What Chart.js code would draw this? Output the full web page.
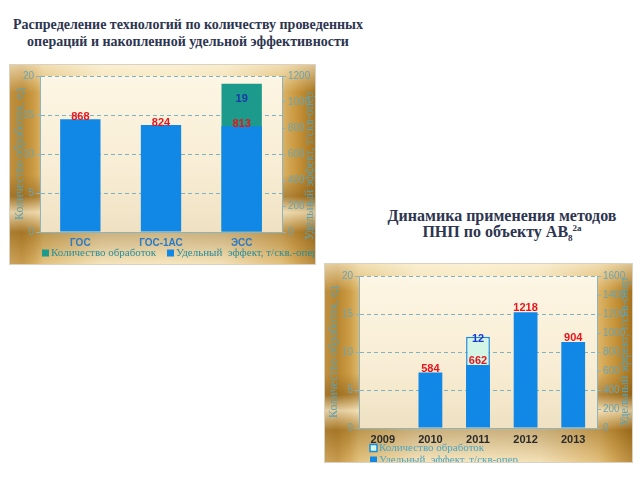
<!DOCTYPE html>
<html lang="ru">
<head>
<meta charset="utf-8">
<script src="https://cdn.jsdelivr.net/npm/chart.js@4.4.1/dist/chart.umd.min.js"></script>
<style>
  html, body { margin: 0; padding: 0; background: #fff; width: 640px; height: 480px; overflow: hidden; }
  .titulo {
    position: absolute;
    font-family: "Liberation Serif", "Times New Roman", serif;
    font-weight: bold;
    color: #2d3550;
    text-align: center;
  }
  #titulo1 { left: 0; top: 16px; width: 376px; font-size: 14px; line-height: 17px; }
  #titulo2 { left: 370px; top: 208px; width: 264px; font-size: 16px; line-height: 16px; }
  #titulo2 .sub { font-size: 9px; position: relative; top: 4px; }
  #titulo2 .sup { font-size: 9px; position: relative; top: -6px; }
  .painel {
    position: absolute;
    background:
      linear-gradient(180deg, rgba(255,248,225,0.6) 0%, rgba(255,248,225,0) 14%, rgba(255,248,225,0) 55%,
        rgba(120,78,15,0.4) 66%, rgba(255,250,232,0.6) 74%, rgba(130,88,20,0.35) 84%, rgba(255,240,205,0.2) 100%),
      linear-gradient(90deg, #c09040 0%, #b8862e 4%, #cc9c46 8%, #dcb86c 11%, #f2e0b6 30%, #f4e4bc 50%,
        #f0dcb0 70%, #dcb468 89%, #c8963c 94%, #a6721c 100%);
    box-shadow: 0 0 0 1px #d9d2c2;
  }
  #painel1 { left: 10px; top: 65px; width: 305px; height: 199px; }
  #painel2 { left: 325px; top: 264px; width: 307px; height: 198px; }
  canvas { display: block; }
</style>
</head>
<body>
<div class="titulo" id="titulo1">Распределение технологий по количеству проведенных<br>операций и накопленной удельной эффективности</div>
<div class="titulo" id="titulo2">Динамика применения методов<br>ПНП по объекту АВ<span class="sub">8</span><span class="sup">2а</span></div>
<div class="painel" id="painel1"><canvas id="grafico1" width="305" height="199"></canvas></div>
<div class="painel" id="painel2"><canvas id="grafico2" width="307" height="198"></canvas></div>
<script>
// dados do primeiro grafico
const categorias1 = ['ГОС', 'ГОС-1АС', 'ЭСС'];
const quantidade1 = [null, null, 19];
const efeito1 = [868, 824, 813];

// dados do segundo grafico
const anos2 = ['2009', '2010', '2011', '2012', '2013'];
const quantidade2 = [null, null, 12, null, null];
const efeito2 = [null, 584, 662, 1218, 904];

const rotuloQtd = 'Количество обработок';
const rotuloEfeito1 = 'Удельный  эффект, т/скв.-опер';
const rotuloEfeito2 = 'Удельный  эффект, т/скв-опер';
const tituloEsq = 'Количество обработок, ед';
const tituloDir = 'Удельный эффект, т/скв-опер';

const corTick = '#6aa5b5';
const corEixo = '#8db3bd';
const fonteSans = '"Liberation Sans", Arial, sans-serif';
const fonteSerif = '"Liberation Serif", "Times New Roman", serif';

// fundo creme da area do grafico
const fundoArea = {
    id: 'fundoArea',
    beforeDraw(chart) {
        const { ctx, chartArea: a } = chart;
        const g = ctx.createLinearGradient(0, a.top, 0, a.bottom);
        g.addColorStop(0, '#fdf6e4');
        g.addColorStop(0.6, '#f8edd4');
        g.addColorStop(1, '#efe1c2');
        ctx.save();
        ctx.fillStyle = g;
        ctx.fillRect(a.left, a.top, a.right - a.left, a.bottom - a.top);
        ctx.restore();
    }
};

// valores em cima das barras
const rotulos = {
    id: 'rotulos',
    afterDatasetsDraw(chart) {
        const ctx = chart.ctx;
        chart.data.datasets.forEach((ds, i) => {
            const cfg = ds.rotulo;
            if (!cfg) return;
            const meta = chart.getDatasetMeta(i);
            meta.data.forEach((barra, j) => {
                const v = ds.data[j];
                if (v === null || v === undefined) return;
                ctx.save();
                ctx.font = 'bold 11px ' + fonteSans;
                ctx.fillStyle = cfg.cor;
                ctx.textAlign = 'center';
                ctx.textBaseline = 'middle';
                ctx.fillText(String(v), barra.x, barra.y + cfg.desloc);
                ctx.restore();
            });
        });
    }
};

// titulos laterais girados e legenda
const extras = {
    id: 'extras',
    afterDraw(chart, args, opts) {
        const ctx = chart.ctx;
        const a = chart.chartArea;
        const meio = (a.top + a.bottom) / 2;
        ctx.save();
        ctx.font = '12px ' + fonteSerif;
        ctx.fillStyle = opts.corTitulo;
        ctx.textAlign = 'center';
        ctx.textBaseline = 'middle';
        opts.titulos.forEach(t => {
            ctx.save();
            ctx.translate(t.x, meio + (t.dy || 0));
            ctx.rotate(-Math.PI / 2);
            ctx.fillText(t.texto, 0, 0);
            ctx.restore();
        });
        ctx.font = '11px ' + fonteSerif;
        ctx.textAlign = 'left';
        opts.legenda.forEach((pos, i) => {
            const ds = chart.data.datasets[i];
            ctx.fillStyle = ds.backgroundColor;
            ctx.fillRect(pos.x, pos.y - 3.5, 7, 7);
            if (ds.borderWidth) {
                ctx.strokeStyle = ds.borderColor;
                ctx.lineWidth = 1.5;
                ctx.strokeRect(pos.x, pos.y - 3.5, 7, 7);
            }
            ctx.fillStyle = opts.corLegenda;
            ctx.fillText(ds.label, pos.x + 9, pos.y);
        });
        ctx.restore();
    }
};

function eixos(maxDir, passoDir, larguraEsq, larguraDir, alturaX, fonteX, corX) {
    return {
        x: {
            offset: true,
            grid: { display: false, drawTicks: false },
            border: { display: true, color: corEixo },
            ticks: { color: corX, font: fonteX, padding: 5 },
            afterFit: s => { s.height = alturaX; }
        },
        y: {
            position: 'left',
            min: 0, max: 20,
            ticks: { stepSize: 5, color: corTick, font: { family: fonteSans, size: 10 }, padding: 2, callback: v => v },
            grid: { color: '#7fb2c2', tickLength: 4, tickColor: corEixo },
            border: { display: true, color: corEixo, dash: [4, 3] },
            afterFit: s => { s.width = larguraEsq; }
        },
        y1: {
            position: 'right',
            min: 0, max: maxDir,
            ticks: { stepSize: passoDir, color: corTick, font: { family: fonteSans, size: 10 }, padding: 2, callback: v => v },
            grid: { drawOnChartArea: false, tickLength: 4, color: corEixo },
            border: { display: true, color: corEixo },
            afterFit: s => { s.width = larguraDir; }
        }
    };
}

const grafico1 = new Chart(document.getElementById('grafico1').getContext('2d'), {
    type: 'bar',
    data: {
        labels: categorias1,
        datasets: [{
            label: rotuloQtd,
            data: quantidade1,
            yAxisID: 'y',
            backgroundColor: '#1c9a8b',
            grouped: false,
            order: 2,
            barPercentage: 0.5,
            categoryPercentage: 1,
            rotulo: { cor: '#1838a8', desloc: 15 }
        }, {
            label: rotuloEfeito1,
            data: efeito1,
            yAxisID: 'y1',
            backgroundColor: '#1188e6',
            grouped: false,
            order: 1,
            barPercentage: 0.5,
            categoryPercentage: 1,
            rotulo: { cor: '#e8141c', desloc: -2 }
        }]
    },
    options: {
        responsive: false,
        animation: false,
        devicePixelRatio: 1,
        layout: { padding: { top: 11 } },
        scales: eixos(1200, 200, 30, 33, 32, { family: fonteSans, size: 10, weight: 'bold' }, '#2a7ac6'),
        plugins: {
            legend: { display: false },
            tooltip: { enabled: false },
            extras: {
                corTitulo: '#5aa3b8',
                corLegenda: '#2a8d9a',
                titulos: [{ texto: tituloEsq, x: 10 }, { texto: tituloDir, x: 300, dy: 12 }],
                legenda: [{ x: 32, y: 188 }, { x: 157, y: 188 }]
            }
        }
    },
    plugins: [fundoArea, rotulos, extras]
});

const grafico2 = new Chart(document.getElementById('grafico2').getContext('2d'), {
    type: 'bar',
    data: {
        labels: anos2,
        datasets: [{
            label: rotuloQtd,
            data: quantidade2,
            yAxisID: 'y',
            backgroundColor: '#d3f5e6',
            borderColor: '#1a8ce0',
            borderWidth: 1.5,
            grouped: false,
            order: 2,
            barPercentage: 0.5,
            categoryPercentage: 1,
            rotulo: { cor: '#1a38d0', desloc: 2 }
        }, {
            label: rotuloEfeito2,
            data: efeito2,
            yAxisID: 'y1',
            backgroundColor: '#1188e6',
            grouped: false,
            order: 1,
            barPercentage: 0.5,
            categoryPercentage: 1,
            rotulo: { cor: '#e8141c', desloc: -4 }
        }]
    },
    options: {
        responsive: false,
        animation: false,
        devicePixelRatio: 1,
        layout: { padding: { top: 12 } },
        scales: eixos(1600, 200, 34, 35, 34, { family: fonteSans, size: 11, weight: 'bold' }, '#2b2b2b'),
        plugins: {
            legend: { display: false },
            tooltip: { enabled: false },
            extras: {
                corTitulo: '#5aa3b8',
                corLegenda: '#4ea6c2',
                titulos: [{ texto: tituloEsq, x: 9 }, { texto: tituloDir, x: 300 }],
                legenda: [{ x: 45, y: 184 }, { x: 45, y: 196 }]
            }
        }
    },
    plugins: [fundoArea, rotulos, extras]
});
</script>
</body>
</html>
